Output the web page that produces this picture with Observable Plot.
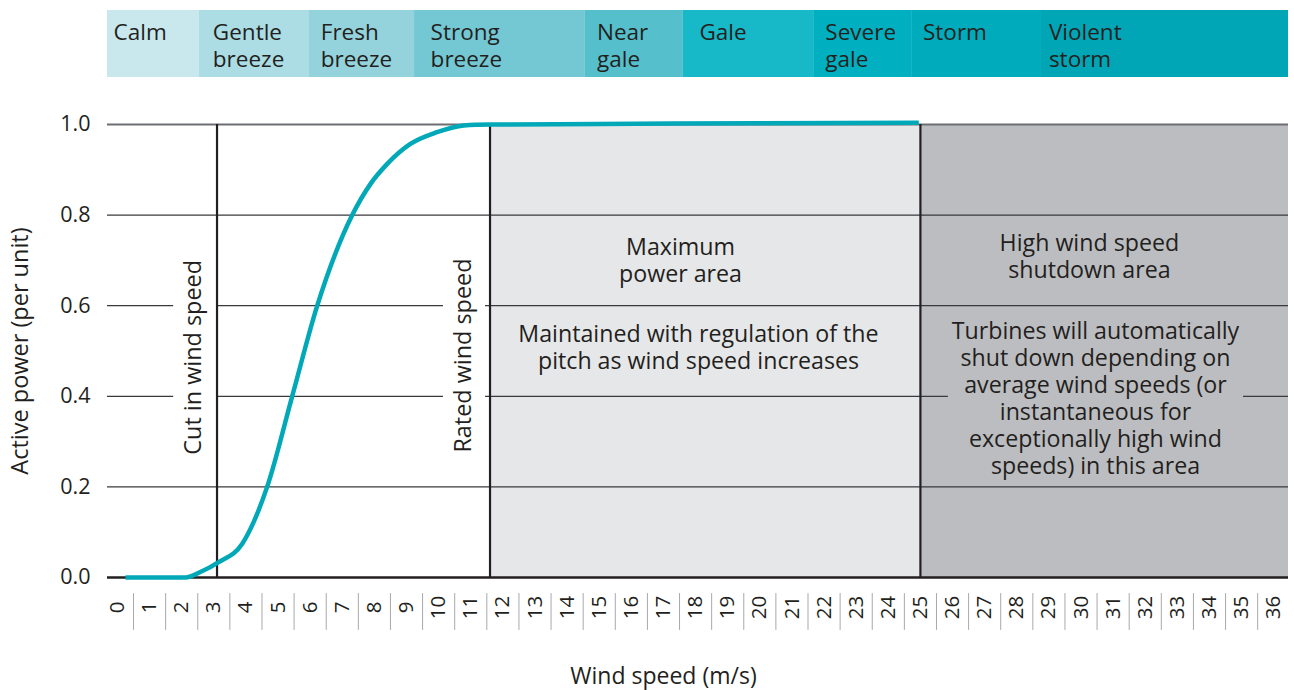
<!DOCTYPE html>
<html>
<head>
<meta charset="utf-8">
<script src="https://cdn.jsdelivr.net/npm/d3@7"></script>
<script src="https://cdn.jsdelivr.net/npm/@observablehq/plot@0.6"></script>
<style>
  html, body { margin: 0; padding: 0; background: #ffffff; }
  svg { display: block; }
</style>
</head>
<body>
<div id="chart"></div>
<script>
// ---- Data ----
// Wind-speed categories (top band), boundaries in m/s
const bandNames = ["Calm", "Gentle\nbreeze", "Fresh\nbreeze", "Strong\nbreeze", "Near\ngale", "Gale", "Severe\ngale", "Storm", "Violent\nstorm"];
const bandStart = [-0.31, 2.55, 5.98, 9.25, 14.55, 17.62, 21.7, 24.75, 28.74];
const bandEnd   = [2.55, 5.98, 9.25, 14.55, 17.62, 21.7, 24.75, 28.74, 36.46];
const bandLabelX = [-0.12, 2.97, 6.33, 9.75, 14.93, 18.12, 22.04, 25.08, 29.0];
const bandColors = ["#c9e8ed", "#acdde4", "#94d3dc", "#73c8d4", "#55bfcc", "#17b8c7", "#00b0c0", "#00abbb", "#00a6b6"];

// Power curve
const windSpeed   = [0.25, 2.12, 2.58, 3.15, 3.88, 4.66, 5.44, 6.22, 7.31, 7.88, 8.4, 9.12, 9.95, 10.78, 11.61, 15, 20, 24.95];
const activePower = [0, 0, 0.012, 0.034, 0.074, 0.2, 0.4, 0.6, 0.8, 0.869, 0.913, 0.957, 0.983, 0.998, 1.0, 1.001, 1.003, 1.004];

// Thresholds (m/s)
const cutIn = 3.1;
const rated = 11.6;
const shutdown = 25;
const xMin = -0.31, xMax = 36.46;

// Axis ticks
const xTicks = d3.range(0, 37);
const yTicks = [0, 0.2, 0.4, 0.6, 0.8, 1.0];

// Annotations
const noteText = [
  "Maximum\npower area",
  "Maintained with regulation of the\npitch as wind speed increases",
  "High wind speed\nshutdown area",
  "Turbines will automatically\nshut down depending on\naverage wind speeds (or\ninstantaneous for\nexceptionally high wind\nspeeds) in this area"
];
const noteX = [17.53, 18.09, 30.26, 30.45];
const noteY = [0.701, 0.509, 0.71, 0.397];

const vNoteText = ["Cut in wind speed", "Rated wind speed"];
const vNoteX = [2.37, 10.77];
const vNoteY = [0.486, 0.49];

const fontFamily = "'Open Sans', 'Noto Sans', sans-serif";
const ink = "#231f20";

// ---- Top band ----
const band = Plot.plot({
  width: 1294,
  height: 77,
  marginTop: 10,
  marginBottom: 0,
  marginLeft: 107,
  marginRight: 6,
  x: {domain: [xMin, xMax], axis: null},
  style: {fontFamily, fontSize: "22px", color: ink, background: "white"},
  marks: [
    Plot.rect(bandNames, {
      x1: (d, i) => bandStart[i],
      x2: (d, i) => bandEnd[i],
      fill: (d, i) => bandColors[i]
    }),
    Plot.text(bandNames, {
      x: (d, i) => bandLabelX[i],
      text: d => d,
      frameAnchor: "top",
      textAnchor: "start",
      lineAnchor: "top",
      lineHeight: 1.17,
      dy: 11,
      fontSize: 22.5,
      fill: ink
    })
  ]
});

// ---- Main chart ----
const main = Plot.plot({
  width: 1294,
  height: 613,
  marginTop: 47,
  marginBottom: 113,
  marginLeft: 107,
  marginRight: 6,
  x: {domain: [xMin, xMax], axis: null},
  y: {domain: [0, 1]},
  style: {fontFamily, fontSize: "22px", color: ink, background: "white", overflow: "visible"},
  marks: [
    // shaded regions
    Plot.rect([0], {x1: rated, x2: shutdown, y1: 0, y2: 1, fill: "#e6e7e8"}),
    Plot.rect([0], {x1: shutdown, x2: xMax, y1: 0, y2: 1, fill: "#bcbdc0"}),
    // horizontal grid
    Plot.ruleY([0.2, 0.4, 0.6, 0.8], {stroke: "#3a3a3c", strokeWidth: 1.3}),
    Plot.ruleY([1.0], {stroke: "#6d6e71", strokeWidth: 2.2}),
    // text backgrounds interrupting the grid
    Plot.rect([0], {x1: 1.75, x2: cutIn, y1: 0.3, y2: 0.7, fill: "white"}),
    Plot.rect([0], {x1: 10.15, x2: 11.46, y1: 0.3, y2: 0.7, fill: "white"}),
    Plot.rect([0], {x1: 25.87, x2: 35.06, y1: 0.3, y2: 0.5, fill: "#bcbdc0"}),
    // vertical threshold lines
    Plot.ruleX([cutIn, rated, shutdown], {y1: 0, y2: 1, stroke: ink, strokeWidth: 2.2}),
    // baseline
    Plot.ruleY([0], {stroke: ink, strokeWidth: 2.6}),
    // power curve
    Plot.line(windSpeed, {
      x: d => d,
      y: (d, i) => activePower[i],
      stroke: "#00a8b8",
      strokeWidth: 4.5,
      strokeLinecap: "butt",
      curve: "monotone-x"
    }),
    // y axis
    Plot.axisY(yTicks, {
      tickSize: 0,
      tickPadding: 17,
      tickFormat: d3.format(".1f"),
      fontSize: 21.5,
      label: null,
      fill: ink
    }),
    Plot.text(["Active power (per unit)"], {
      frameAnchor: "left",
      textAnchor: "middle",
      lineAnchor: "middle",
      rotate: -90,
      dx: -87,
      fontSize: 23.5,
      fill: ink
    }),
    // x tick labels (rotated) and separators
    Plot.text(xTicks, {
      x: d => d,
      text: d => String(d),
      frameAnchor: "bottom",
      textAnchor: "middle",
      lineAnchor: "middle",
      rotate: -90,
      dy: 30,
      fontSize: 20.5,
      fill: ink
    }),
    Plot.vector(xTicks.slice(0, -1), {
      x: d => d + 0.5,
      frameAnchor: "bottom",
      anchor: "start",
      rotate: 180,
      length: 36,
      dy: 16,
      stroke: "#a7a9ac",
      strokeWidth: 1,
      shape: {draw(ctx, l) { ctx.moveTo(0, 0); ctx.lineTo(0, -l); }}
    }),
    Plot.text(["Wind speed (m/s)"], {
      x: 17,
      frameAnchor: "bottom",
      lineAnchor: "middle",
      dy: 99,
      fontSize: 23,
      fill: ink
    }),
    // annotations
    Plot.text(noteText, {
      x: (d, i) => noteX[i],
      y: (d, i) => noteY[i],
      text: d => d,
      lineHeight: 1.16,
      fontSize: 23.2,
      fill: ink
    }),
    Plot.text(vNoteText, {
      x: (d, i) => vNoteX[i],
      y: (d, i) => vNoteY[i],
      text: d => d,
      rotate: -90,
      fontSize: 23.4,
      fill: ink
    })
  ]
});

const root = document.getElementById("chart");
root.appendChild(band);
root.appendChild(main);
</script>
</body>
</html>
